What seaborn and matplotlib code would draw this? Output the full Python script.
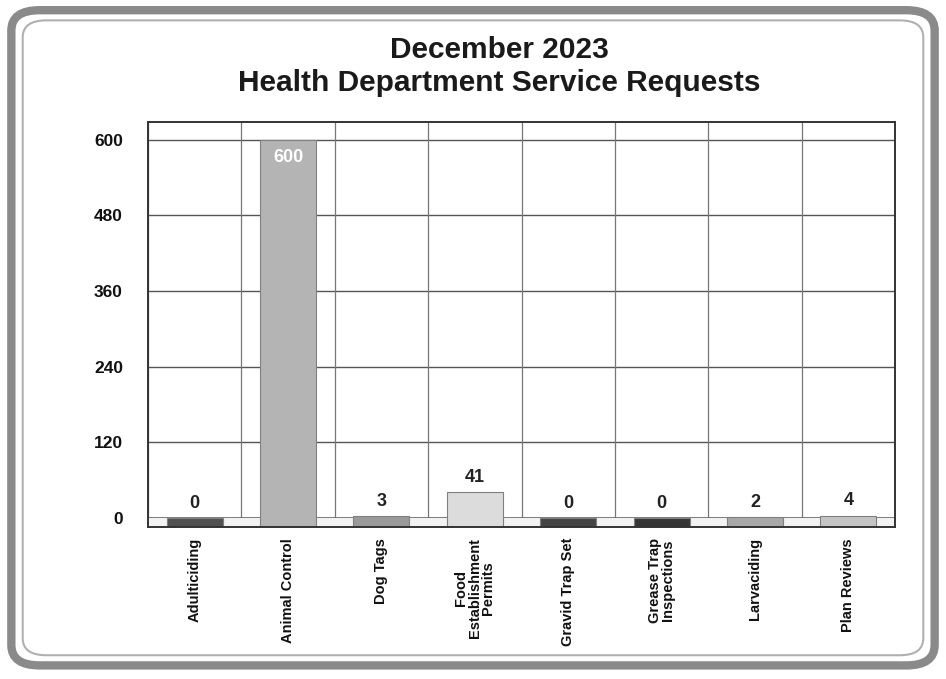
import matplotlib
matplotlib.use("Agg")
import matplotlib.pyplot as plt
import seaborn as sns
import pandas as pd
from matplotlib.patches import FancyBboxPatch

categories = ["Adulticiding", "Animal Control", "Dog Tags", "Food\nEstablishment\nPermits",
              "Gravid Trap Set", "Grease Trap\nInspections", "Larvaciding", "Plan Reviews"]
values = [0, 600, 3, 41, 0, 0, 2, 4]
bar_colors = ["#505050", "#b4b4b4", "#9a9a9a", "#dcdcdc", "#444444", "#353535", "#a8a8a8", "#c4c4c4"]
yticks = [0, 120, 240, 360, 480, 600]
title = "December 2023\nHealth Department Service Requests"

sns.set_theme(style="white")
plt.rcParams['font.family'] = ['Liberation Sans', 'DejaVu Sans']

fig = plt.figure(figsize=(9.46, 6.79), dpi=100)
fig.patch.set_facecolor("white")

# outer rounded frame
frame = FancyBboxPatch((0.012, 0.02), 0.976, 0.965, boxstyle="round,pad=0,rounding_size=0.03",
                       transform=fig.transFigure, facecolor="none", edgecolor="#8a8a8a", linewidth=6)
fig.patches.append(frame)
frame2 = FancyBboxPatch((0.024, 0.035), 0.952, 0.935, boxstyle="round,pad=0,rounding_size=0.025",
                        transform=fig.transFigure, facecolor="none", edgecolor="#b0b0b0", linewidth=1.5)
fig.patches.append(frame2)

ax = fig.add_axes([148/946, 1-527/679, (895-148)/946, (527-122)/679])
df = pd.DataFrame({"cat": categories, "val": values})
sns.barplot(data=df, x="cat", y="val", hue="cat", palette=bar_colors, legend=False,
            width=0.6, ax=ax, edgecolor="#808080", linewidth=0.8, saturation=1)

# slabs on floor: extend bars slightly below zero
for p in ax.patches:
    p.set_y(-14)
    p.set_height(p.get_height() + 14)

ax.set_ylim(-14, 628)
ax.set_xlim(-0.5, len(categories) - 0.5)
ax.set_yticks(yticks)
ax.set_yticklabels([str(t) for t in yticks], fontsize=12.5, fontweight="bold", color="#111111")
ax.set_xticks(range(len(categories)))
ax.set_xticklabels(categories, rotation=90, fontsize=10.5, fontweight="bold", color="#111111",
                   linespacing=0.95, va="top")
ax.set_xlabel("")
ax.set_ylabel("")
ax.tick_params(axis="x", length=0, pad=8)
ax.tick_params(axis="y", length=0, pad=18)

# grid
for t in yticks[1:]:
    ax.axhline(t, color="#555555", lw=1.0, zorder=0)
for i in range(len(categories) + 1):
    ax.axvline(i - 0.5, color="#777777", lw=0.9, zorder=0)
ax.axhline(0, color="#444444", lw=1.2, zorder=0)
ax.axhspan(-14, 0, color="#f2f2f2", zorder=0)
for s in ax.spines.values():
    s.set_color("#333333")
    s.set_linewidth(1.4)

# value labels
for i, v in enumerate(values):
    if v >= 300:
        ax.text(i, v - 28, str(v), ha="center", va="center", fontsize=13, color="white", fontweight="bold")
    else:
        ax.text(i, v + 10, str(v), ha="center", va="bottom", fontsize=13, color="#222222", fontweight="bold")

fig.text(0.528, 0.902, title, ha="center", va="center", fontsize=21.5, fontweight="bold",
         color="#1a1a1a", linespacing=1.2)

fig.savefig("out.png", dpi=100)
